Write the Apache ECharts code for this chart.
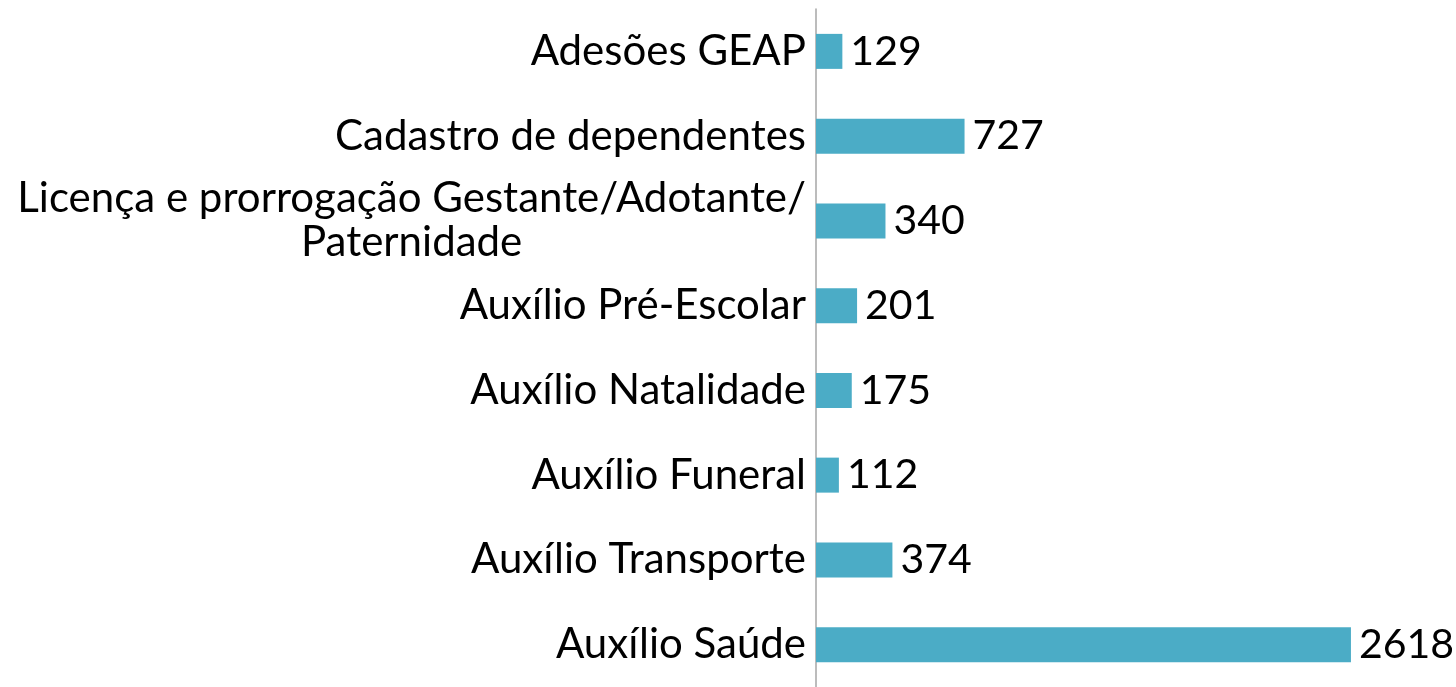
<!DOCTYPE html>
<html>
<head>
<meta charset="utf-8">
<script src="https://cdn.jsdelivr.net/npm/echarts@6/dist/echarts.min.js"></script>
<style>
  html, body { margin: 0; padding: 0; background: #fff; }
  #chart { width: 1456px; height: 687px; }
</style>
</head>
<body>
<div id="chart"></div>
<script>
const categories = [
  'Adesões GEAP',
  'Cadastro de dependentes',
  'Licença e prorrogação Gestante/Adotante/\nPaternidade',
  'Auxílio Pré-Escolar',
  'Auxílio Natalidade',
  'Auxílio Funeral',
  'Auxílio Transporte',
  'Auxílio Saúde'
];
const values = [129, 727, 340, 201, 175, 112, 374, 2618];

const FONT = 'Lato';
const chart = echarts.init(document.getElementById('chart'));
chart.setOption({
  animation: false,
  grid: { left: 816, right: 27, top: 9, height: 683 },
  xAxis: {
    type: 'value',
    min: 0,
    max: 3000,
    show: false
  },
  yAxis: {
    type: 'category',
    data: categories,
    inverse: true,
    axisTick: { show: false },
    axisLine: { lineStyle: { color: '#a6a6a6', width: 1.5 } },
    axisLabel: {
      margin: 10,
      align: 'right',
      formatter: (v) => v.split('\n').map((s) => '{a|' + s + '}').join('\n'),
      rich: {
        a: { fontFamily: FONT, fontSize: 42, color: '#000', align: 'center', lineHeight: 44 }
      }
    }
  },
  series: [
    {
      type: 'bar',
      data: values,
      barWidth: 35,
      itemStyle: { color: '#4bacc6' },
      label: {
        show: true,
        position: 'right',
        distance: 8,
        fontFamily: FONT,
        fontSize: 41,
        color: '#000'
      }
    }
  ]
});
</script>
</body>
</html>
